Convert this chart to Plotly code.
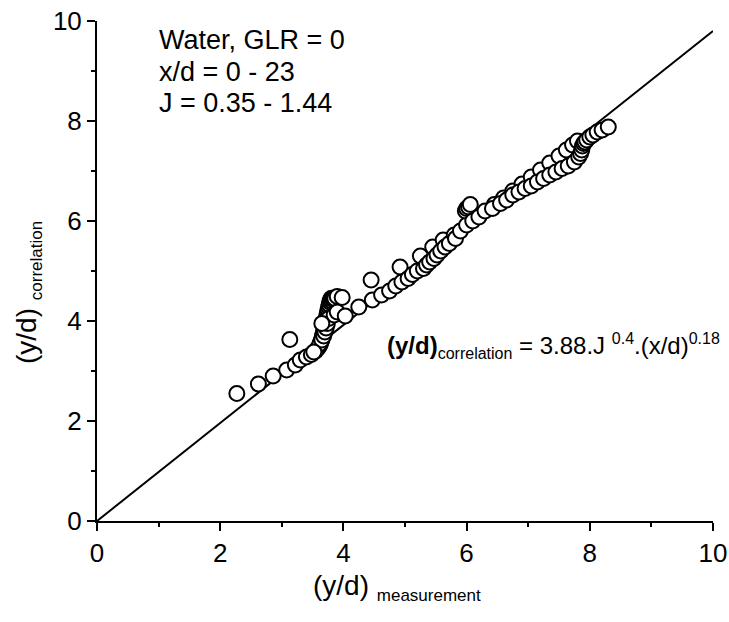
"""
Кореляція (y/d): виміряні значення проти розрахованих
"""

import plotly.graph_objects as go

# Дані (щільна група біля x/d ~ 3.7 йде першою)
x_measurement = [
    3.55, 3.58, 3.60, 3.62, 3.63, 3.64, 3.65, 3.66, 3.67, 3.68,
    3.69, 3.70, 3.71, 3.72, 3.73, 3.74, 3.75, 3.76, 3.77, 3.78,
    3.79, 3.80, 3.81, 3.82, 3.83, 3.84, 3.86, 3.62, 3.65, 3.68,
    3.70, 3.72, 3.74, 3.76, 3.85, 3.90,
    2.27, 2.62, 2.86, 3.08, 3.13, 3.22, 3.30, 3.40, 3.48, 3.52,
    3.65, 3.90, 3.98, 4.03, 4.25, 4.45, 4.47, 4.62, 4.75, 4.85,
    4.92, 4.95, 5.05, 5.12, 5.20, 5.25, 5.30, 5.35, 5.40, 5.45,
    5.47, 5.52, 5.58, 5.62, 5.65, 5.72, 5.80, 5.82, 5.90, 6.00,
    5.98, 6.00, 6.03, 6.06, 6.10, 6.20, 6.30, 6.45, 6.60, 6.75,
    6.90, 7.05, 7.20, 7.35, 7.50, 7.62, 7.72, 7.80, 6.42, 6.55,
    6.65, 6.75, 6.85, 6.95, 7.05, 7.15, 7.25, 7.35, 7.45, 7.55,
    7.65, 7.75, 7.82, 7.85, 7.87, 7.88, 7.90, 7.92, 7.95, 8.00,
    8.05, 8.12, 8.20, 8.30,
]
y_correlation = [
    3.40, 3.45, 3.48, 3.52, 3.56, 3.60, 3.65, 3.70, 3.75, 3.80,
    3.86, 3.92, 3.98, 4.04, 4.10, 4.16, 4.22, 4.28, 4.33, 4.38,
    4.42, 4.45, 4.40, 4.44, 4.46, 4.43, 4.45, 3.55, 3.62, 3.70,
    3.78, 3.86, 3.95, 4.05, 4.12, 4.18,
    2.55, 2.74, 2.90, 3.02, 3.63, 3.12, 3.22, 3.28, 3.33, 3.38,
    3.95, 4.49, 4.47, 4.10, 4.28, 4.82, 4.42, 4.52, 4.60, 4.70,
    5.08, 4.78, 4.85, 4.93, 5.00, 5.30, 5.05, 5.12, 5.18, 5.48,
    5.25, 5.32, 5.40, 5.62, 5.48, 5.55, 5.72, 5.65, 5.80, 5.92,
    6.20, 6.25, 6.28, 6.33, 6.00, 6.08, 6.20, 6.33, 6.46, 6.60,
    6.74, 6.88, 7.02, 7.16, 7.30, 7.42, 7.52, 7.60, 6.25, 6.35,
    6.42, 6.52, 6.58, 6.65, 6.70, 6.78, 6.85, 6.92, 6.98, 7.05,
    7.10, 7.18, 7.28, 7.35, 7.42, 7.50, 7.55, 7.58, 7.62, 7.68,
    7.72, 7.78, 7.82, 7.88,
]

# Лінія кореляції
line_x = [0, 10]
line_y = [0, 9.8]

tick_vals = [0, 2, 4, 6, 8, 10]
tick_text = ["0", "2", "4", "6", "8", "10"]

FONT = "Liberation Sans, Arial, sans-serif"

fig = go.Figure()

fig.add_trace(go.Scatter(
    x=line_x, y=line_y,
    mode="lines",
    line=dict(color="black", width=2),
    showlegend=False,
    cliponaxis=False,
))

fig.add_trace(go.Scatter(
    x=x_measurement, y=y_correlation,
    mode="markers",
    marker=dict(symbol="circle", size=15, color="white",
                line=dict(color="black", width=2)),
    showlegend=False,
))

axis_common = dict(
    range=[0, 10],
    tickvals=tick_vals,
    ticktext=tick_text,
    showline=True,
    linecolor="black",
    linewidth=2,
    ticks="outside",
    ticklen=8,
    tickwidth=2,
    tickcolor="black",
    minor=dict(ticks="outside", ticklen=4, tickwidth=1.5,
               tickcolor="black", dtick=1, showgrid=False),
    showgrid=False,
    zeroline=False,
    mirror=False,
    automargin=False,
    ticklabeloverflow="allow",
    tickfont=dict(family=FONT, size=26, color="black"),
)

fig.update_xaxes(**axis_common)
fig.update_yaxes(**axis_common)

# Підписи осей (анотаціями, щоб точно розмістити)
fig.add_annotation(
    x=0.487, y=-0.132, xref="paper", yref="paper",
    text="(y/d) <sub><span style='font-size:17px'>measurement</span></sub>",
    showarrow=False,
    xanchor="center", yanchor="middle",
    font=dict(family=FONT, size=28, color="black"),
)
fig.add_annotation(
    x=-0.112, y=0.456, xref="paper", yref="paper",
    text="(y/d) <sub><span style='font-size:17px'>correlation</span></sub>",
    textangle=-90,
    showarrow=False,
    xanchor="center", yanchor="middle",
    font=dict(family=FONT, size=28, color="black"),
)

# Підписи умов експерименту
for txt, yy in [("Water, GLR = 0", 9.62), ("x/d = 0 - 23", 8.98),
                ("J = 0.35 - 1.44", 8.36)]:
    fig.add_annotation(
        x=0.97, y=yy, xref="x", yref="y",
        text=txt, showarrow=False,
        xanchor="left", yanchor="middle",
        font=dict(family=FONT, size=27, color="black"),
    )

fig.add_annotation(
    x=4.68, y=3.5, xref="x", yref="y",
    text=("<b>(y/d)</b><sub><span style='font-size:16px'>correlation</span></sub>"
          " = 3.88.J <sup><span style='font-size:16px'>0.4</span></sup>"
          ".(x/d)<sup><span style='font-size:16px'>0.18</span></sup>"),
    showarrow=False,
    xanchor="left", yanchor="middle",
    font=dict(family=FONT, size=24, color="black"),
)

fig.update_layout(
    width=729, height=622,
    margin=dict(l=97, r=16, t=21, b=101),
    plot_bgcolor="white",
    paper_bgcolor="white",
    font=dict(family=FONT, color="black"),
)

# прибираємо стандартний відступ сторінки
fig.write_html("out.html", config={"displayModeBar": False},
               post_script="document.body.style.margin='0';")
